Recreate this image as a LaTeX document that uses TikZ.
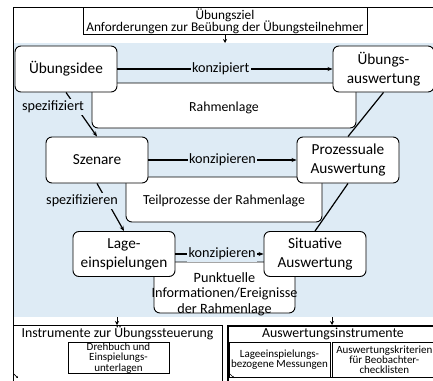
\documentclass[tikz,border=0pt]{standalone}
\usepackage{fontspec}
\setmainfont{Carlito}
\usetikzlibrary{arrows.meta}
\definecolor{bgblue}{RGB}{222,235,245}
\tikzset{
  proc/.style={draw, line width=0.9pt, rounded corners=6pt, fill=white, minimum width=102pt, minimum height=46pt, align=center, font=\fontsize{15.3}{19}\selectfont, inner sep=1pt},
  area/.style={draw, line width=0.9pt, rounded corners=6pt, fill=white},
  lbl/.style={fill=bgblue, inner sep=1.5pt, font=\fontsize{14.2}{15}\selectfont},
  arr/.style={line width=1.2pt, -{Stealth[length=5pt,width=4pt]}},
  conn/.style={line width=1.2pt},
  small/.style={draw, line width=0.7pt, align=center, font=\fontsize{11}{10.2}\selectfont, inner sep=0.3pt},
  thin/.style={line width=0.7pt}
}
\begin{document}
\begin{tikzpicture}[x=1pt,y=-1pt]
\useasboundingbox (0,0) rectangle (433,380);
% blue area
\fill[bgblue] (13,43) rectangle (433,317);
% outer frame
\draw[thin] (13,380) -- (13,7) -- (433,7);
% top box
\draw[thin] (83,7) rectangle (367,34);
\node[font=\fontsize{13.3}{14}\selectfont, inner sep=0] (ziel) at (225,15) {Übungsziel};
\node[font=\fontsize{13.3}{14}\selectfont, inner sep=0] (anf) at (225,27.5) {Anforderungen zur Beübung der Übungsteilnehmer};
\coordinate (topb) at (225,34);
\coordinate (bluet) at (225,43);
\draw[line width=1pt, -{Stealth[length=4pt,width=4pt]}] (topb) -- (bluet);
% areas
\draw[area] (92,83) rectangle (356,128);
\node[font=\fontsize{13.8}{15}\selectfont] (rahmen) at (224,108) {Rahmenlage};
\draw[area] (126,177) rectangle (322,222);
\node[font=\fontsize{13.8}{15}\selectfont] (teil) at (224,201) {Teilprozesse der Rahmenlage};
\draw[area] (154,262) rectangle (295,313);
\node[font=\fontsize{14.2}{15.5}\selectfont, align=center] (punkt) at (224.5,294) {Punktuelle\\Informationen/Ereignisse\\der Rahmenlage};
% process nodes
\node[proc] (idee) at (66,69) {Übungsidee};
\node[proc, minimum width=101pt] (ausw) at (383.5,69) {Übungs-\\auswertung};
\node[proc] (szen) at (97,160) {Szenare};
\node[proc] (proz) at (348,160) {Prozessuale\\Auswertung};
\node[proc, minimum height=45pt] (lage) at (124,254) {Lage-\\einspielungen};
\node[proc, minimum height=45pt] (sit) at (315,254) {Situative\\Auswertung};
% connectors
\draw[arr] (idee) -- node[lbl, pos=0.48] {konzipiert} (ausw);
\draw[arr] (szen) -- node[lbl, pos=0.5] {konzipieren} (proz);
\draw[arr] (lage) -- node[lbl, pos=0.53] {konzipieren} (sit);
\draw[arr] (idee.south) -- (szen.north);
\node[lbl] (spez1) at (53,107) {spezifiziert};
\draw[arr] (szen.south) -- (lage.north);
\node[lbl] (spez2) at (82,201) {spezifizieren};
\draw[conn] (ausw.south) -- (proz.north);
\draw[conn] (proz.south) -- (sit.north);
% bottom boxes
\coordinate (bl1) at (117,317);
\coordinate (bl2) at (117,325);
\coordinate (br1) at (332,317);
\coordinate (br2) at (332,325);
\draw[line width=1pt, -{Stealth[length=4pt,width=4pt]}] (bl1) -- (bl2);
\draw[line width=1pt, -{Stealth[length=4pt,width=4pt]}] (br1) -- (br2);
\draw[line width=0.8pt] (13,390) -- (13,325) -- (222,325) -- (222,390);
\node[font=\fontsize{13.8}{15}\selectfont] (instr) at (117.5,333.5) {Instrumente zur Übungssteuerung};
\node[small, minimum width=101pt, minimum height=30pt] (dreh) at (118.5,358) {Drehbuch und\\Einspielungs-\\unterlagen};
\draw[line width=2.5pt] (228,392) -- (228,326) -- (440,326);
\draw[thin] (229,377.5) -- (440,377.5);
\node[font=\fontsize{13.8}{15}\selectfont] (auswi) at (333,333.5) {Auswertungsinstrumente};
\node[small, minimum width=101pt, minimum height=35pt] (mess) at (279.5,359.5) {Lageeinspielungs-\\bezogene Messungen};
\node[small, minimum width=104pt, minimum height=35pt, anchor=west] (krit) at (332,359.5) {Auswertungskriterien\\für Beobachter-\\checklisten};
% small marks
\draw[thin, -{Stealth[length=2pt,width=2pt]}] (14,374) -- (18,378);
\draw[thin, -{Stealth[length=2pt,width=2pt]}] (230,374) -- (234,378);
\end{tikzpicture}
\end{document}
